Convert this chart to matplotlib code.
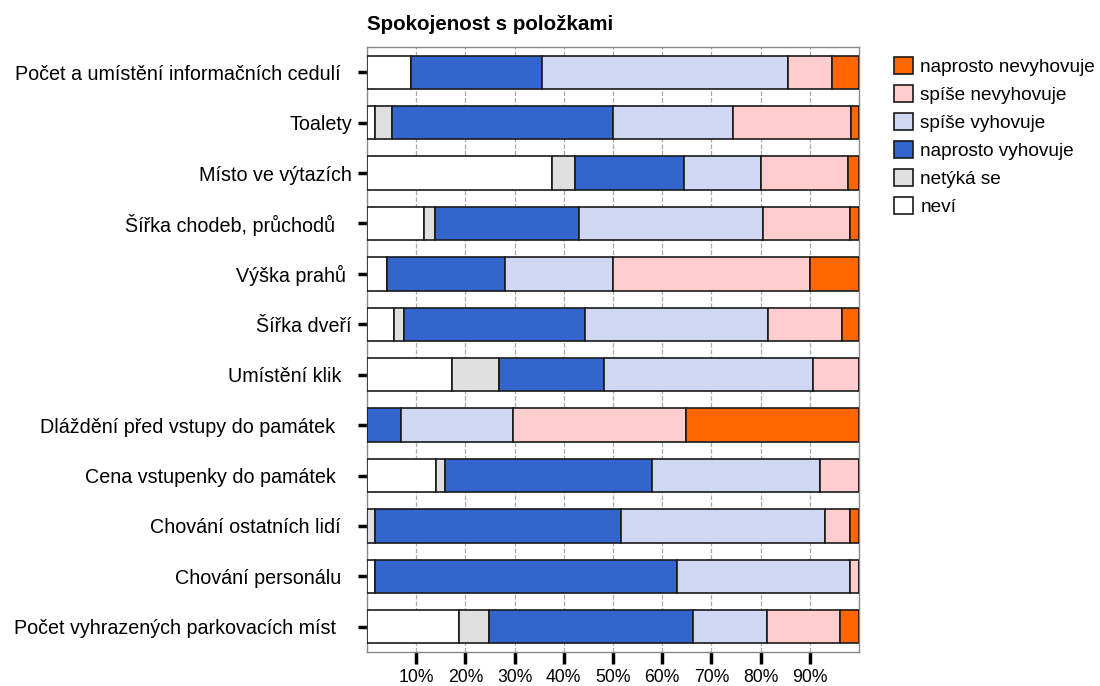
import matplotlib.pyplot as plt
import numpy as np

plt.rcParams['font.family'] = ['Liberation Sans', 'DejaVu Sans']

categories = [
    'Počet a umístění informačních cedulí  ',
    'Toalety',
    'Místo ve výtazích',
    'Šířka chodeb, průchodů   ',
    'Výška prahů ',
    'Šířka dveří',
    'Umístění klik  ',
    'Dláždění před vstupy do památek   ',
    'Cena vstupenky do památek   ',
    'Chování ostatních lidí  ',
    'Chování personálu  ',
    'Počet vyhrazených parkovacích míst   ',
]

# percent of answers, per category (top to bottom)
nevi = [8.9, 1.6, 37.7, 11.6, 4.0, 5.4, 17.2, 0.0, 14.1, 0.0, 1.6, 18.6]
netyka = [0.0, 3.4, 4.5, 2.2, 0.0, 2.1, 9.7, 0.0, 1.8, 1.6, 0.0, 6.2]
naprosto_vyh = [26.7, 45.0, 22.3, 29.2, 24.0, 36.9, 21.3, 6.9, 42.0, 50.1, 61.5, 41.5]
spise_vyh = [50.0, 24.3, 15.6, 37.5, 22.0, 37.1, 42.4, 22.8, 34.2, 41.4, 35.1, 14.9]
spise_nevyh = [9.0, 24.0, 17.7, 17.6, 40.0, 15.0, 9.4, 35.2, 7.9, 5.1, 1.8, 14.9]
naprosto_nevyh = [5.4, 1.7, 2.2, 1.9, 10.0, 3.5, 0.0, 35.1, 0.0, 1.8, 0.0, 3.9]

series = [
    ('neví', nevi, '#FFFFFF'),
    ('netýká se', netyka, '#E0E0E0'),
    ('naprosto vyhovuje', naprosto_vyh, '#3366CC'),
    ('spíše vyhovuje', spise_vyh, '#D0D7F2'),
    ('spíše nevyhovuje', spise_nevyh, '#FFCDCD'),
    ('naprosto nevyhovuje', naprosto_nevyh, '#FF6600'),
]

fig = plt.figure(figsize=(11, 6.86), dpi=100)
ax = fig.add_axes([367 / 1100, 1 - 652 / 686, 492 / 1100, 605 / 686])

y = np.arange(len(categories))
left = np.zeros(len(categories))
handles = []
for name, vals, col in series:
    vals = np.array(vals)
    b = ax.barh(y, vals, left=left, height=0.66, color=col,
                edgecolor='#1a1a1a', linewidth=1.2, label=name, zorder=3)
    handles.append(b)
    left += vals

ax.set_xlim(0, 100)
ax.set_ylim(len(categories) - 0.5, -0.5)
ax.set_yticks(y)
ax.set_yticklabels(categories, fontsize=14.2)
ax.set_xticks(np.arange(10, 100, 10))
ax.set_xticklabels(['%d%%' % v for v in range(10, 100, 10)], fontsize=12.7)
ax.tick_params(axis='y', length=6.5, width=2.5, pad=4.3, color='black')
ax.tick_params(axis='x', length=8.6, width=2.5, pad=4, color='black')
ax.grid(axis='x', linestyle='--', color='#aaaaaa', linewidth=0.9, zorder=0)
for s in ax.spines.values():
    s.set_color('#888888')
    s.set_linewidth(1)

ax.set_title('Spokojenost s položkami', loc='left', fontsize=14.8,
             fontweight='bold', pad=12)

fig.legend(handles[::-1], [s[0] for s in series][::-1],
           loc='upper left', bbox_to_anchor=(886 / 1100, 1 - 49 / 686),
           frameon=False, fontsize=13.7, handlelength=1.0, handleheight=1.0,
           handletextpad=0.4, labelspacing=0.48, borderaxespad=0)

fig.savefig('out.png', dpi=100)
